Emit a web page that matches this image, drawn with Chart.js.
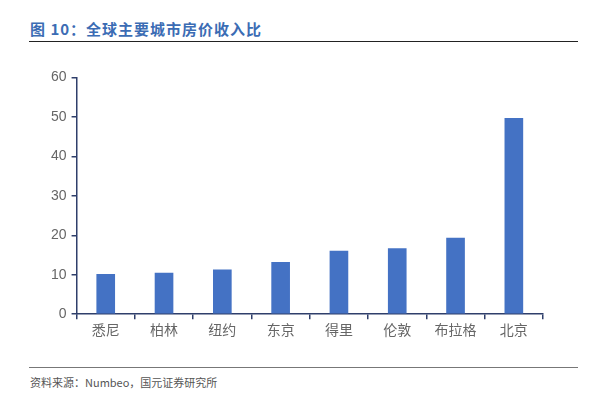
<!DOCTYPE html>
<html>
<head>
<meta charset="utf-8">
<script src="https://cdn.jsdelivr.net/npm/chart.js@4"></script>
<style>
  body { margin: 0; background: #fff; width: 590px; height: 395px; position: relative; overflow: hidden; }
  #title { position: absolute; left: 30px; top: 18px; font: bold 15px "Noto Sans CJK SC", sans-serif; color: #3b6cb4; letter-spacing: 1px; }
  #topline { position: absolute; left: 29px; top: 41px; width: 549px; height: 1px; background: #222; }
  #bottomline { position: absolute; left: 29px; top: 367px; width: 549px; height: 1px; background: #777; }
  #source { position: absolute; left: 30px; top: 374px; font: 11px "Noto Sans CJK SC", sans-serif; color: #555; }
  #wrap { position: absolute; left: 0; top: 64px; width: 590px; height: 276px; }
</style>
</head>
<body>
<div id="title">图 10：全球主要城市房价收入比</div>
<div id="topline"></div>
<div id="wrap"><canvas id="chart"></canvas></div>
<div id="bottomline"></div>
<div id="source">资料来源：Numbeo，国元证券研究所</div>
<script>
// 城市与房价收入比
const cities = ["悉尼", "柏林", "纽约", "东京", "得里", "伦敦", "布拉格", "北京"];
const ratios = [10.2, 10.5, 11.3, 13.2, 16.1, 16.7, 19.4, 49.7];
const yTicks = [0, 10, 20, 30, 40, 50, 60];

document.addEventListener("DOMContentLoaded", function () {
    const ctx = document.getElementById("chart").getContext("2d");
    const axisColor = "#2f3f6b";

    new Chart(ctx, {
        type: "bar",
        data: {
            labels: cities,
            datasets: [{
                data: ratios,
                backgroundColor: "#4472c4",
                barPercentage: 0.64,
                categoryPercentage: 0.5
            }]
        },
        options: {
            responsive: true,
            maintainAspectRatio: false,
            animation: false,
            layout: { padding: { left: 46, right: 47, top: 10, bottom: 0 } },
            plugins: { legend: { display: false }, tooltip: { enabled: false } },
            scales: {
                x: {
                    border: { color: axisColor, width: 1.5 },
                    grid: { display: true, drawOnChartArea: false, tickLength: 5, color: axisColor, lineWidth: 1.5, offset: true },
                    ticks: { color: "#666666", font: { size: 14, family: "Noto Sans CJK SC" }, padding: 2 }
                },
                y: {
                    min: 0,
                    max: 60,
                    afterBuildTicks: function (axis) { axis.ticks = yTicks.map(v => ({ value: v })); },
                    border: { color: axisColor, width: 1.5 },
                    grid: { display: true, drawOnChartArea: false, tickLength: 5, color: axisColor, lineWidth: 1.5 },
                    ticks: { color: "#666666", font: { size: 14, family: "Liberation Sans" }, padding: 5 }
                }
            }
        }
    });
});
</script>
</body>
</html>
